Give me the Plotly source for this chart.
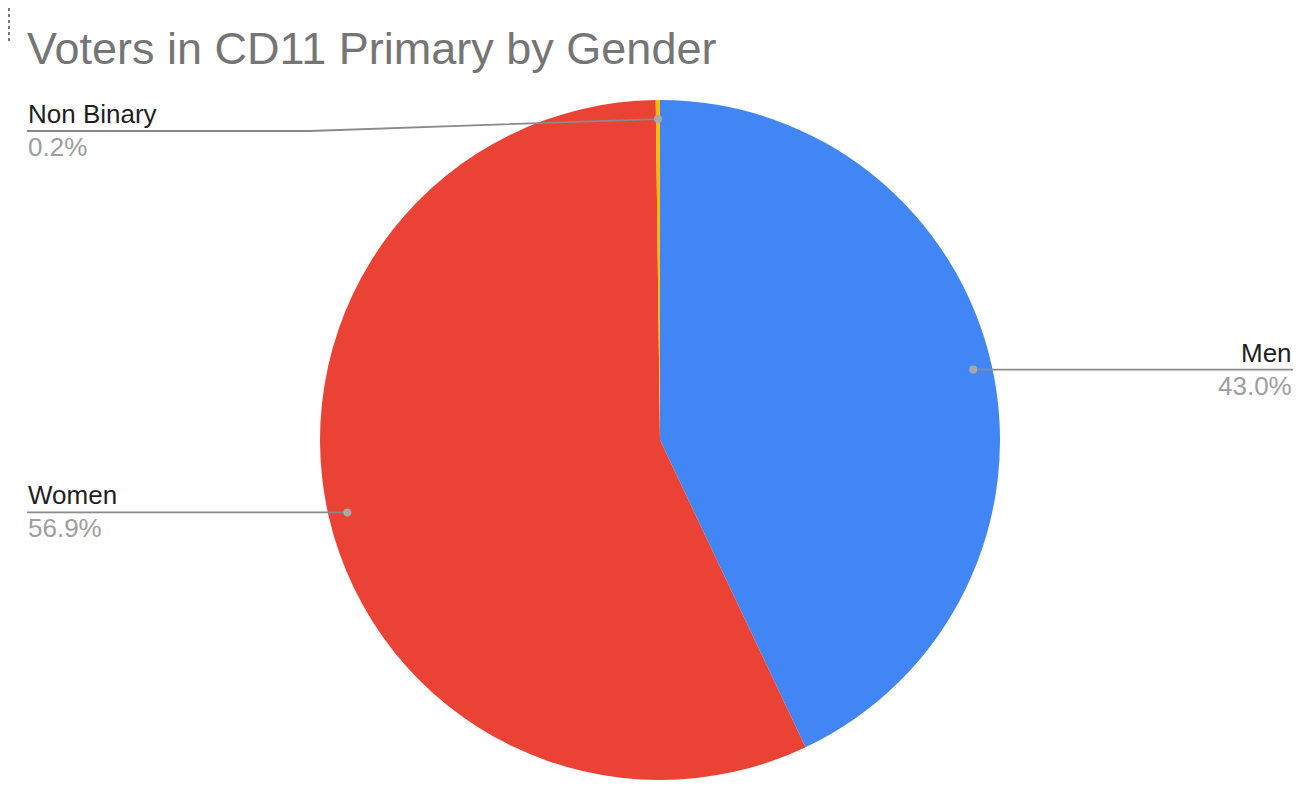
import math
import plotly.graph_objects as go

# ---- data ----
categories = ["Men", "Women", "Non Binary"]
values = [43.0, 56.9, 0.2]
colors = ["#4285F4", "#EA4335", "#FBBC04"]
title_text = "Voters in CD11 Primary by Gender"

# ---- layout constants (page pixel coordinates) ----
W, H = 1305, 786
OFF = 8  # page body margin
CX, CY, R = 660, 440, 340
DOT_R = 0.944 * R
LEFT_X, RIGHT_X = 27, 1293
MIN_LINE_Y = 131
ELBOW_X_LEFT = 310
NAME_FONT = dict(family="Liberation Sans, Arial, sans-serif", size=26, color="#1f1f1f")
PCT_FONT = dict(family="Liberation Sans, Arial, sans-serif", size=26, color="#9e9e9e")
LINE_COLOR = "#8a8a8a"

fig = go.Figure()
fx, fy = CX - OFF, CY - OFF
fig.add_trace(go.Pie(
    labels=categories, values=values, sort=False, direction="clockwise", rotation=0,
    marker=dict(colors=colors, line=dict(width=0)), textinfo="none",
    hoverinfo="label+percent", showlegend=False,
    domain=dict(x=[(fx - R) / W, (fx + R) / W], y=[(H - fy - R) / H, (H - fy + R) / H]),
))
# invisible trace to activate cartesian axes
fig.add_trace(go.Scatter(x=[OFF], y=[OFF], mode="markers", marker=dict(opacity=0),
                         hoverinfo="skip", showlegend=False))

total = sum(values)
cum = 0.0
annotations = []
shapes = []
for cat, v in zip(categories, values):
    mid = (cum + v / 2) / total
    cum += v
    ang = 2 * math.pi * mid
    dx = CX + DOT_R * math.sin(ang)
    dy = CY - DOT_R * math.cos(ang)
    right = math.sin(ang) > 0.01
    ly = max(dy, MIN_LINE_Y)
    if right:
        pts = [(dx, dy), (RIGHT_X, ly)]
        tx, xanchor = RIGHT_X, "right"
    else:
        if abs(ly - dy) > 0.5:
            pts = [(dx, dy), (ELBOW_X_LEFT, ly), (LEFT_X, ly)]
        else:
            pts = [(dx, dy), (LEFT_X, ly)]
        tx, xanchor = LEFT_X, "left"
    path = "M " + " L ".join(f"{px:.2f},{py:.2f}" for px, py in pts)
    shapes.append(dict(type="path", path=path, xref="x", yref="y", layer="above",
                       line=dict(color=LINE_COLOR, width=1.8)))
    shapes.append(dict(type="circle", xref="x", yref="y", layer="above",
                       x0=dx - 4, x1=dx + 4, y0=dy - 4, y1=dy + 4,
                       fillcolor="#a8a8a8", line=dict(width=0)))
    annotations.append(dict(x=tx, y=ly - 1, xref="x", yref="y", text=cat, showarrow=False,
                            xanchor=xanchor, yanchor="bottom", font=NAME_FONT, borderpad=0))
    annotations.append(dict(x=tx, y=ly, xref="x", yref="y", text=f"{v:.1f}%", showarrow=False,
                            xanchor=xanchor, yanchor="top", font=PCT_FONT, borderpad=0))

annotations.append(dict(x=LEFT_X - 2, y=48, xref="x", yref="y", text=title_text, showarrow=False,
                        xanchor="left", yanchor="middle",
                        font=dict(family="Liberation Sans, Arial, sans-serif", size=45, color="#757575")))

# menu dots (top-right) and cropped dotted edge (top-left)
for cy in (10, 23, 35):
    px = (1302 - OFF) / W
    py = 1 - (cy - OFF) / H
    shapes.append(dict(type="circle", xref="paper", yref="paper", layer="above",
                       x0=px - 4 / W, x1=px + 4 / W, y0=py - 4 / H, y1=py + 4 / H,
                       fillcolor="#5f6368", line=dict(width=0)))
shapes.append(dict(type="line", xref="x", yref="y", x0=9, x1=9, y0=8, y1=44,
                   line=dict(color="#777777", width=2, dash="dot")))

fig.update_layout(
    width=W, height=H, margin=dict(l=0, r=0, t=0, b=0),
    paper_bgcolor="white", plot_bgcolor="rgba(0,0,0,0)",
    xaxis=dict(range=[OFF, W + OFF], visible=False, fixedrange=True, domain=[0, 1]),
    yaxis=dict(range=[H + OFF, OFF], visible=False, fixedrange=True, domain=[0, 1]),
    annotations=annotations, shapes=shapes, showlegend=False,
)
fig.write_html("out.html")
